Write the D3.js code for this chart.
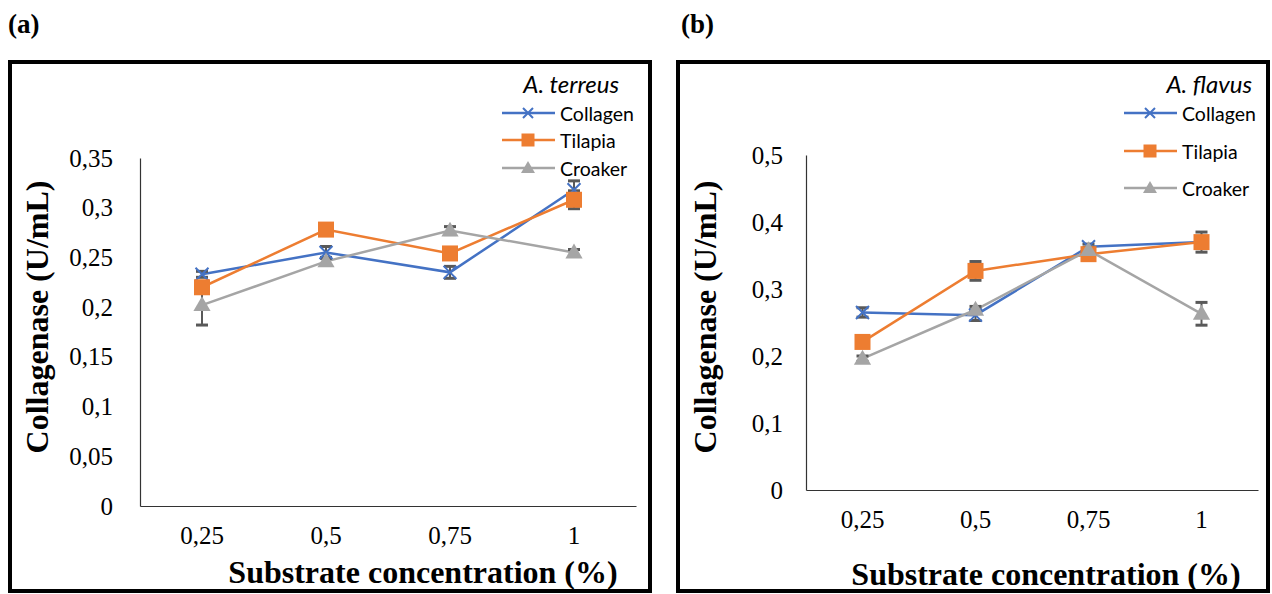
<!DOCTYPE html>
<html><head><meta charset="utf-8">
<script src="https://cdn.jsdelivr.net/npm/d3@7"></script>
<style>body{margin:0;background:#fff}svg{display:block}</style>
</head><body>
<svg id="c" width="1272" height="594"></svg>
<script>
const categories = ["0,25", "0,5", "0,75", "1"];
const seriesNames = ["Collagen", "Tilapia", "Croaker"];
// Panel (a) A. terreus
const aCollagen = [0.233, 0.255, 0.235, 0.318];
const aTilapia  = [0.220, 0.278, 0.254, 0.308];
const aCroaker  = [0.202, 0.246, 0.277, 0.255];
const aCollagenErr = [0.003, 0.006, 0.006, 0.009];
const aTilapiaErr  = [0.004, 0.004, 0.005, 0.009];
const aCroakerErr  = [0.020, 0.004, 0.004, 0.003];
const aTicks = [0, 0.05, 0.1, 0.15, 0.2, 0.25, 0.3, 0.35];
// Panel (b) A. flavus
const bCollagen = [0.265, 0.261, 0.363, 0.370];
const bTilapia  = [0.221, 0.327, 0.352, 0.370];
const bCroaker  = [0.196, 0.269, 0.358, 0.263];
const bCollagenErr = [0.007, 0.008, 0.004, 0.007];
const bTilapiaErr  = [0.004, 0.014, 0.005, 0.015];
const bCroakerErr  = [0.004, 0.005, 0.004, 0.017];
const bTicks = [0, 0.1, 0.2, 0.3, 0.4, 0.5];

const colors = ["#4472C4", "#ED7D31", "#A5A5A5"];
const markers = ["x", "square", "triangle"];
const svg = d3.select("#c");
const fmt = d => String(+d.toFixed(2)).replace(".", ",");

function marker(g, type, color, x, y, s) {
  if (type === "x") {
    const h = s / 2;
    g.append("path").attr("d", `M${x-h},${y-h}L${x+h},${y+h}M${x-h},${y+h}L${x+h},${y-h}`)
      .attr("stroke", color).attr("stroke-width", 2).attr("fill", "none");
  } else if (type === "square") {
    g.append("rect").attr("x", x - s/2).attr("y", y - s/2).attr("width", s).attr("height", s).attr("fill", color);
  } else {
    g.append("path").attr("d", d3.symbol().type(d3.symbolTriangle).size(s*s*0.5)()).attr("transform", `translate(${x},${y + 1})`).attr("fill", color);
  }
}

function panel(cfg) {
  const g = svg.append("g");
  g.append("rect").attr("x", cfg.frame[0]).attr("y", cfg.frame[1]).attr("width", cfg.frame[2]).attr("height", cfg.frame[3])
    .attr("fill", "none").attr("stroke", "#000").attr("stroke-width", 4);
  g.append("text").attr("x", cfg.label[0]).attr("y", cfg.label[1]).text(cfg.labelText)
    .attr("font-family", "Liberation Serif").attr("font-weight", "bold").attr("font-size", 27);

  const x = d3.scaleBand().domain(categories).range([cfg.x0, cfg.x1]).padding(0);
  const y = d3.scaleLinear().domain([0, cfg.ymax]).range([cfg.y0, cfg.y1]);

  const ya = g.append("g").attr("transform", `translate(${cfg.x0},0)`)
    .call(d3.axisLeft(y).tickValues(cfg.ticks).tickFormat(fmt).tickSize(0).tickPadding(cfg.ypad));
  ya.select(".domain").attr("stroke", "#333").attr("stroke-width", 1.2);
  ya.selectAll("text").attr("font-family", "Liberation Serif").attr("font-size", 25).attr("fill", "#000");

  const xa = g.append("g").attr("transform", `translate(0,${cfg.y0})`)
    .call(d3.axisBottom(x).tickSize(0).tickPadding(20));
  xa.select(".domain").attr("stroke", "#333").attr("stroke-width", 1.2);
  xa.selectAll("text").attr("font-family", "Liberation Serif").attr("font-size", 25).attr("fill", "#000");

  g.append("text").attr("x", cfg.xt[0]).attr("y", cfg.xt[1]).attr("text-anchor", "middle")
    .attr("font-family", "Liberation Serif").attr("font-weight", "bold").attr("font-size", 32)
    .text("Substrate concentration (%)");
  g.append("text").attr("transform", `translate(${cfg.yt[0]},${cfg.yt[1]}) rotate(-90)`).attr("text-anchor", "middle")
    .attr("font-family", "Liberation Serif").attr("font-weight", "bold").attr("font-size", 32)
    .text("Collagenase (U/mL)");

  cfg.series.forEach((vals, i) => {
    const line = d3.line().x((d, j) => x(categories[j]) + x.bandwidth()/2).y(d => y(d));
    g.append("path").datum(vals).attr("d", line).attr("fill", "none").attr("stroke", colors[i]).attr("stroke-width", 2.5);
  });
  cfg.series.forEach((vals, i) => {
    vals.forEach((v, j) => {
      const cx = x(categories[j]) + x.bandwidth()/2;
      const e = cfg.errs[i][j];
      const eg = g.append("g").attr("stroke", "#595959").attr("stroke-width", 2);
      eg.append("line").attr("x1", cx).attr("x2", cx).attr("y1", y(v - e)).attr("y2", y(v + e));
      eg.append("line").attr("x1", cx - 6).attr("x2", cx + 6).attr("y1", y(v - e)).attr("y2", y(v - e)).attr("stroke-width", 3);
      eg.append("line").attr("x1", cx - 6).attr("x2", cx + 6).attr("y1", y(v + e)).attr("y2", y(v + e)).attr("stroke-width", 3);
    });
  });
  cfg.series.forEach((vals, i) => {
    vals.forEach((v, j) => {
      const cx = x(categories[j]) + x.bandwidth()/2;
      marker(g, markers[i], colors[i], cx, y(v), i === 0 ? 13 : 16);
    });
  });

  g.append("text").attr("x", cfg.legTitle[0]).attr("y", cfg.legTitle[1]).attr("text-anchor", "end")
    .attr("font-family", "Lato").attr("font-style", "italic").attr("font-size", 24).attr("dominant-baseline", "central")
    .text(cfg.legTitleText);
  seriesNames.forEach((n, i) => {
    const ly = cfg.legY[i];
    g.append("line").attr("x1", cfg.legX).attr("x2", cfg.legX + 53).attr("y1", ly).attr("y2", ly)
      .attr("stroke", colors[i]).attr("stroke-width", 2.5);
    marker(g, markers[i], colors[i], cfg.legX + 26, ly, i === 0 ? 10 : 13);
    g.append("text").attr("x", cfg.legX + 58).attr("y", ly).attr("dominant-baseline", "central")
      .attr("font-family", "Lato").attr("font-size", 19.5).text(n);
  });
}

panel({
  frame: [10, 62, 640, 529], label: [8, 33], labelText: "(a)",
  x0: 140, x1: 636, y0: 506, y1: 158, ymax: 0.35, ticks: aTicks, ypad: 27,
  xt: [423, 583], yt: [48, 317],
  series: [aCollagen, aTilapia, aCroaker], errs: [aCollagenErr, aTilapiaErr, aCroakerErr],
  legTitle: [619, 83], legTitleText: "A. terreus", legX: 502, legY: [113, 140, 168]
});
panel({
  frame: [678, 62, 590, 529], label: [681, 33], labelText: "(b)",
  x0: 806, x1: 1258, y0: 490, y1: 155, ymax: 0.5, ticks: bTicks, ypad: 23,
  xt: [1046, 585], yt: [716, 317],
  series: [bCollagen, bTilapia, bCroaker], errs: [bCollagenErr, bTilapiaErr, bCroakerErr],
  legTitle: [1252, 83], legTitleText: "A. flavus", legX: 1124, legY: [113, 151, 188]
});
</script>
</body></html>
